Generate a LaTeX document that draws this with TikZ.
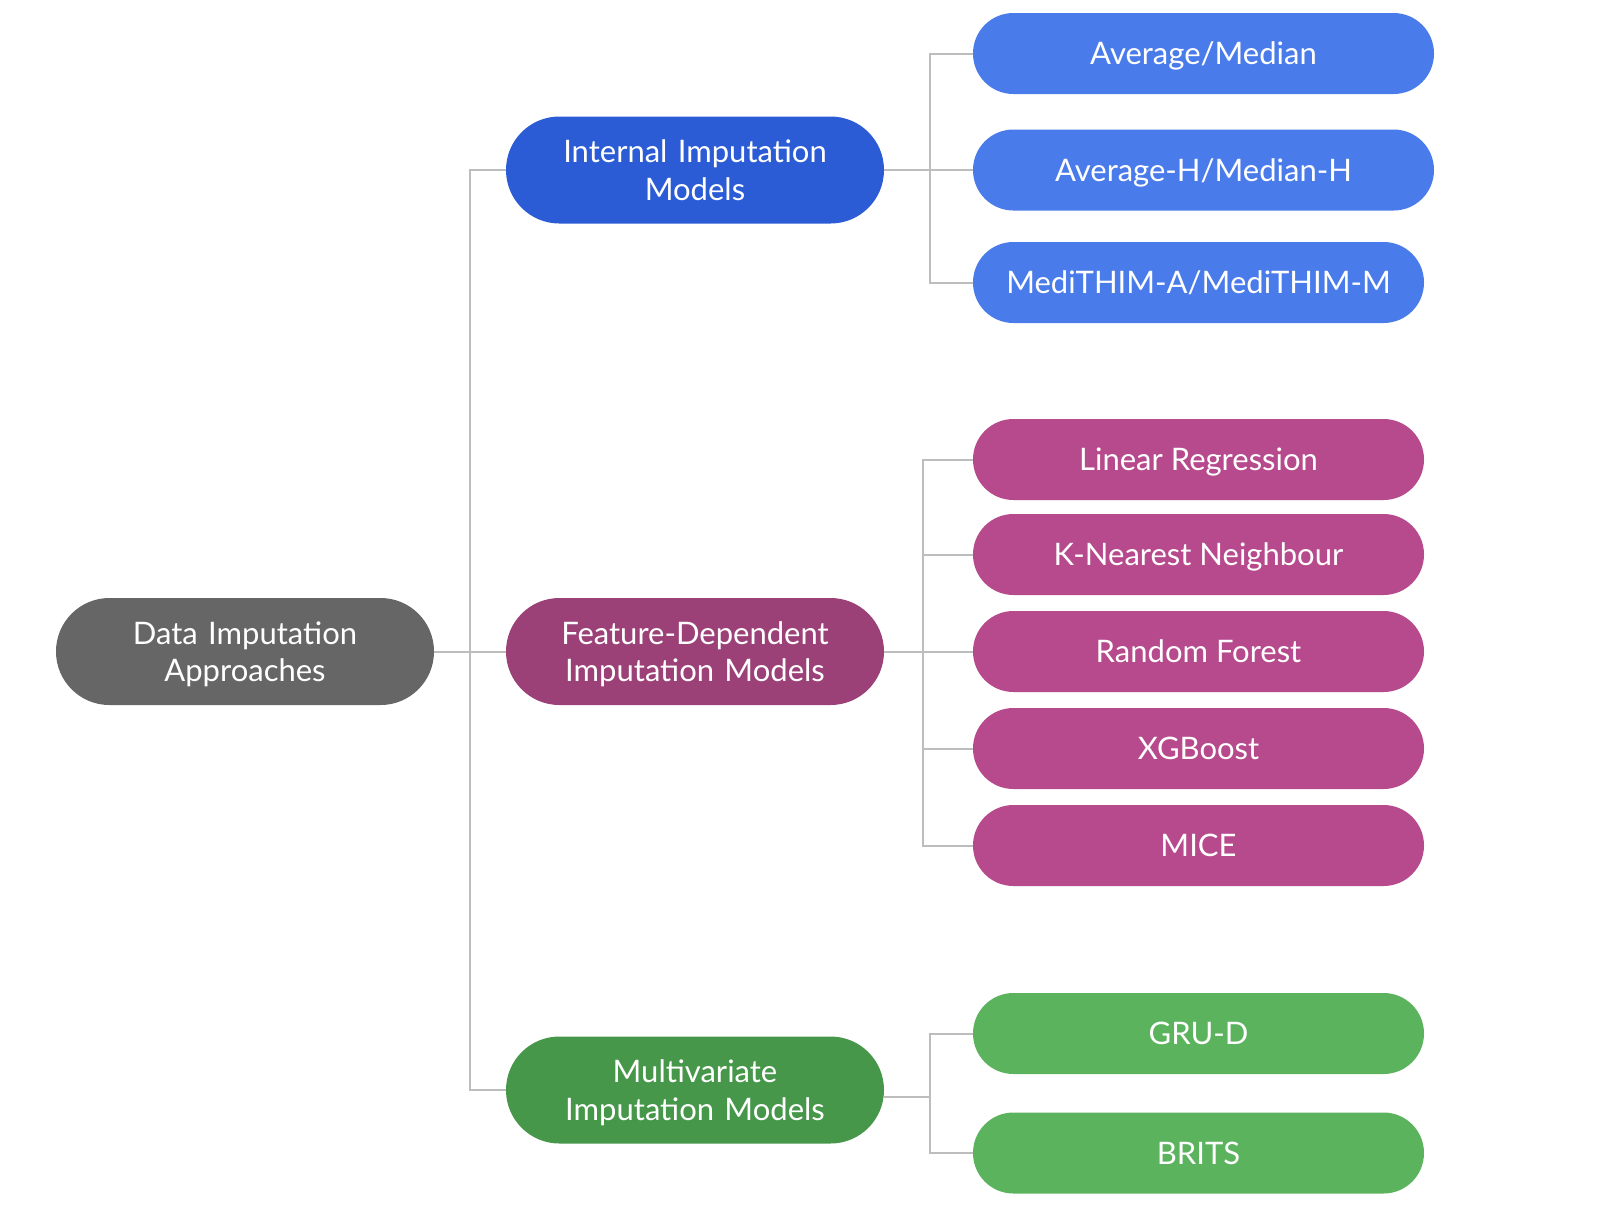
\documentclass[tikz,border=0pt]{standalone}
\usepackage{fontspec}
\setmainfont{Lato}
\definecolor{rootgray}{HTML}{666666}
\definecolor{intdark}{HTML}{2B5CD6}
\definecolor{intlight}{HTML}{4A7BEA}
\definecolor{featdark}{HTML}{9C4178}
\definecolor{featlight}{HTML}{B74A8C}
\definecolor{multdark}{HTML}{47974B}
\definecolor{multlight}{HTML}{5BB35E}
\definecolor{linkgray}{HTML}{BDBDBD}
\begin{document}
\begin{tikzpicture}[x=0.5pt,y=-0.5pt,
		pill/.style={rectangle,rounded corners=26.7pt,minimum width=189pt,minimum height=53.5pt,
			text width=180pt,align=center,text=white,inner sep=0pt,text height=11.3pt,text depth=18.8pt,
			font=\fontsize{15.5}{18.8}\selectfont},
		leaf/.style={rectangle,rounded corners=20.2pt,minimum height=40.5pt,
			align=center,text=white,inner sep=0pt,text height=11.3pt,text depth=0pt,
			font=\fontsize{15.5}{18.8}\selectfont},
		link/.style={draw=linkgray,line width=1pt}]
		\useasboundingbox (0,0) rectangle (1602,1217);
		% first level
		\node[pill,fill=rootgray] (root) at (245,651.5) {Data Imputation\\Approaches};
		\node[pill,fill=intdark] (internal) at (695,170) {Internal Imputation\\Models};
		\node[pill,fill=featdark] (feature) at (695,651.5) {Feature-Dependent\\Imputation Models};
		\node[pill,fill=multdark] (multi) at (695,1090) {Multivariate\\Imputation Models};
		
		% leaves
		\node[leaf,fill=intlight,minimum width=230.5pt] (avg) at (1203.5,53.5) {Average/Median};
		\node[leaf,fill=intlight,minimum width=230.5pt] (avgh) at (1203.5,170) {Average-H/Median-H};
		\node[leaf,fill=intlight,minimum width=225.5pt] (medi) at (1198.5,282.5) {MediTHIM-A/MediTHIM-M};
		
		\node[leaf,fill=featlight,minimum width=225.5pt] (linreg) at (1198.5,459.5) {Linear Regression};
		\node[leaf,fill=featlight,minimum width=225.5pt] (knn) at (1198.5,554.5) {K-Nearest Neighbour};
		\node[leaf,fill=featlight,minimum width=225.5pt] (rf) at (1198.5,651.5) {Random Forest};
		\node[leaf,fill=featlight,minimum width=225.5pt] (xgb) at (1198.5,748.5) {XGBoost};
		\node[leaf,fill=featlight,minimum width=225.5pt] (mice) at (1198.5,845.5) {MICE};
		
		\node[leaf,fill=multlight,minimum width=225.5pt] (grud) at (1198.5,1033.5) {GRU-D};
		\node[leaf,fill=multlight,minimum width=225.5pt] (brits) at (1198.5,1153) {BRITS};
		
		% bus points
		\coordinate (busR) at (470,651.5);
		\coordinate (busI) at (930,170);
		\coordinate (busF) at (922.5,651.5);
		\coordinate (busM) at (930,1097);
		
		\draw[link] (root.east) -- (busR);
		\draw[link] (internal.west) -| (busR);
		\draw[link] (feature.west) -- (busR);
		\draw[link] (multi.west) -| (busR);
		
		\draw[link] (internal.east) -- (busI);
		\draw[link] (avg.west) -| (busI);
		\draw[link] (avgh.west) -- (busI);
		\draw[link] (medi.west) -| (busI);
		
		\draw[link] (feature.east) -- (busF);
		\draw[link] (linreg.west) -| (busF);
		\draw[link] (knn.west) -| (busF);
		\draw[link] (rf.west) -- (busF);
		\draw[link] (xgb.west) -| (busF);
		\draw[link] (mice.west) -| (busF);
		
		\draw[link] (busM -| multi.east) -- (busM);
		\draw[link] (grud.west) -| (busM);
		\draw[link] (brits.west) -| (busM);
		\end{tikzpicture}
\end{document}
